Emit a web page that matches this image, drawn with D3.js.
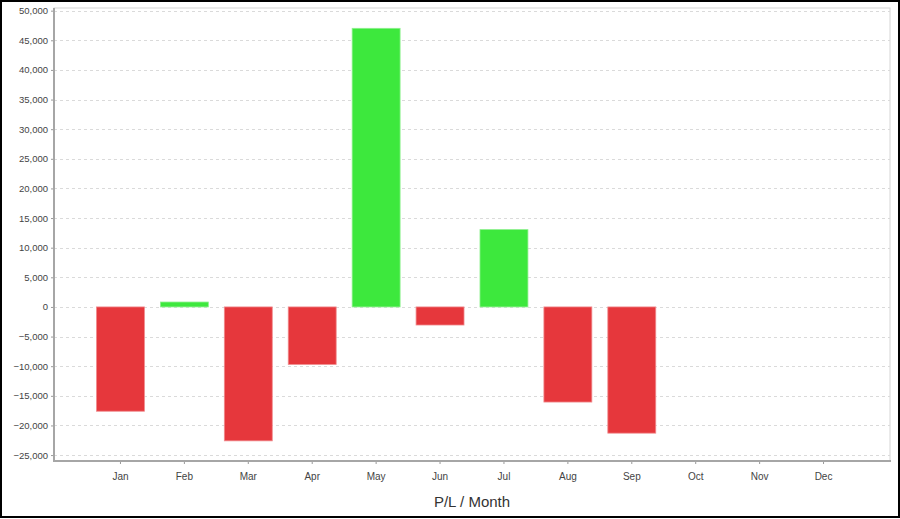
<!DOCTYPE html>
<html>
<head>
<meta charset="utf-8">
<script src="https://cdn.jsdelivr.net/npm/d3@7"></script>
<style>
  html, body { margin: 0; padding: 0; background: #fff; }
  svg { display: block; font-family: "Liberation Sans", Arial, sans-serif; }
</style>
</head>
<body>
<svg id="chart" width="900" height="519"></svg>
<script>
const months = ["Jan","Feb","Mar","Apr","May","Jun","Jul","Aug","Sep","Oct","Nov","Dec"];
const plValues = [-17600, 830, -22600, -9700, 47020, -3050, 13050, -16050, -21300, null, null, null];
const yTicks = [50000,45000,40000,35000,30000,25000,20000,15000,10000,5000,0,-5000,-10000,-15000,-20000,-25000];
const yDomain = [-26000, 50450];
const titleText = "P/L / Month";

const svg = d3.select("#chart");
const W = 900, H = 519;
const plot = { left: 54, right: 890, top: 8, bottom: 461 };

const x = d3.scaleBand().domain(months).range([88.5, 855.5]).paddingInner(0.25).paddingOuter(0.125);
const y = d3.scaleLinear().domain(yDomain).range([plot.bottom, plot.top]);

// outer frame
svg.append("rect").attr("x", 1).attr("y", 1).attr("width", W - 2).attr("height", H - 3)
  .attr("fill", "#fff").attr("stroke", "#000").attr("stroke-width", 2);

// plot background + outline
svg.append("rect").attr("x", plot.left).attr("y", plot.top)
  .attr("width", plot.right - plot.left).attr("height", plot.bottom - plot.top)
  .attr("fill", "#fff").attr("stroke", "#d4d4d4").attr("stroke-width", 1);

// gridlines
svg.append("g").selectAll("line").data(yTicks).join("line")
  .attr("x1", plot.left).attr("x2", plot.right)
  .attr("y1", d => Math.round(y(d)) + 0.5).attr("y2", d => Math.round(y(d)) + 0.5)
  .attr("stroke", "#dadada").attr("stroke-width", 1).attr("stroke-dasharray", "3,3");

// bars
const data = months.map((m, i) => ({ m, v: plValues[i] })).filter(d => d.v !== null);
svg.append("g").selectAll("rect").data(data).join("rect")
  .attr("x", d => x(d.m))
  .attr("width", x.bandwidth())
  .attr("y", d => y(Math.max(0, d.v)))
  .attr("height", d => Math.abs(y(d.v) - y(0)))
  .attr("fill", d => d.v >= 0 ? "#3de83d" : "#e6373c")
  .attr("stroke", d => d.v >= 0 ? "#8cf08c" : "#f08a8d")
  .attr("stroke-width", 0.8);

// y axis
const yAxis = d3.axisLeft(y).tickValues(yTicks).tickSize(3).tickPadding(3)
  .tickFormat(d3.format(","));
const gy = svg.append("g").attr("transform", `translate(${plot.left},0)`).call(yAxis);
gy.select(".domain").remove();
gy.selectAll(".tick line").attr("stroke", "#999");
gy.selectAll(".tick text").attr("fill", "#444").style("font-size", "9.5px")
  .style("font-family", "'Liberation Sans', Arial, sans-serif");

// x axis
const xAxis = d3.axisBottom(x).tickSize(3).tickPadding(9);
const gx = svg.append("g").attr("transform", `translate(0,${plot.bottom})`).call(xAxis);
gx.select(".domain").remove();
gx.selectAll(".tick line").attr("stroke", "#999");
gx.selectAll(".tick text").attr("fill", "#444").style("font-size", "10px")
  .style("font-family", "'Liberation Sans', Arial, sans-serif");

// axis lines
svg.append("line").attr("x1", plot.left).attr("x2", plot.left).attr("y1", plot.top).attr("y2", plot.bottom + 1)
  .attr("stroke", "#a6a6a6").attr("stroke-width", 2);
svg.append("line").attr("x1", plot.left).attr("x2", plot.right + 1).attr("y1", plot.bottom).attr("y2", plot.bottom)
  .attr("stroke", "#a6a6a6").attr("stroke-width", 2);

// title
svg.append("text").attr("x", (plot.left + plot.right) / 2).attr("y", 507)
  .attr("text-anchor", "middle").attr("fill", "#333").style("font-size", "15px")
  .text(titleText);
</script>
</body>
</html>
